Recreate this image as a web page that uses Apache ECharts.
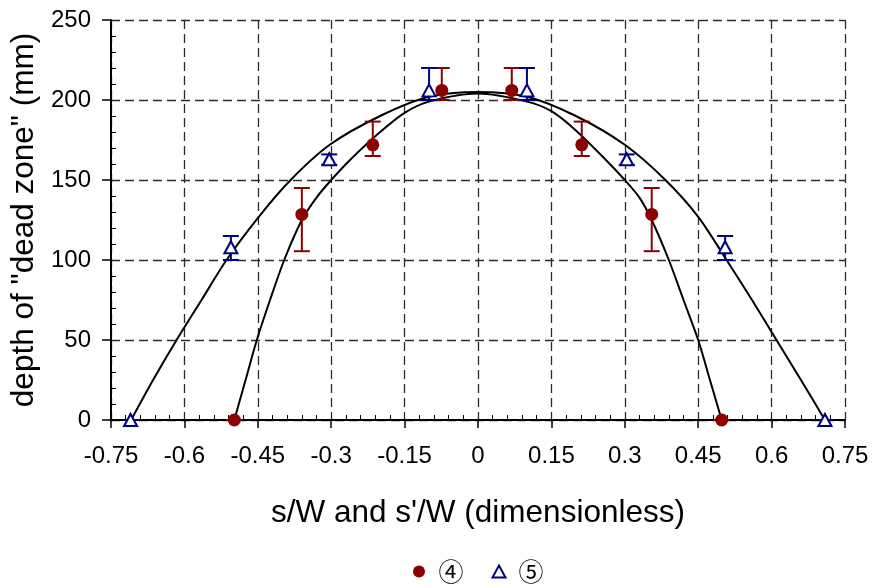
<!DOCTYPE html>
<html>
<head>
<meta charset="utf-8">
<script src="https://cdn.jsdelivr.net/npm/echarts@6/dist/echarts.min.js"></script>
<style>
  html, body { margin: 0; padding: 0; background: #ffffff; }
  #chart { width: 876px; height: 587px; }
</style>
</head>
<body>
<div id="chart"></div>
<script>
// Measured points: [s/W, depth (mm)]
const series4Points = [[-0.498, 0], [-0.36, 128.5], [-0.215, 172], [-0.074, 206], [0.069, 206], [0.212, 172], [0.355, 128.5], [0.498, 0]];
// Error bar ranges for series 4: [s/W, low, high]
const series4Errors = [[-0.498, 0, 0], [-0.36, 105.5, 145], [-0.215, 165, 186.5], [-0.074, 200, 220], [0.069, 200, 220], [0.212, 165, 186.5], [0.355, 105.5, 145], [0.498, 0, 0]];

const series5Points = [[-0.71, 0], [-0.505, 108], [-0.304, 163], [-0.1, 206], [0.1, 206], [0.304, 163], [0.505, 108], [0.709, 0]];
const series5Errors = [[-0.71, 0, 0], [-0.505, 100, 115], [-0.304, 159.5, 166], [-0.1, 200, 220], [0.1, 200, 220], [0.304, 159.5, 166], [0.505, 100, 115], [0.709, 0, 0]];

// Fitted profiles (wide one through series 5, narrow one through series 4)
const wideCurve = [[-0.709, 0], [-0.664, 25], [-0.616, 50], [-0.565, 75], [-0.514, 100], [-0.448, 127], [-0.383, 150], [-0.303, 172], [-0.2, 190], [-0.1, 202], [0, 205], [0.1, 202], [0.2, 190], [0.3, 172], [0.383, 150], [0.45, 127], [0.508, 100], [0.56, 75], [0.61, 50], [0.66, 25], [0.709, 0]];
const narrowCurve = [[-0.498, 0], [-0.475, 25], [-0.452, 50], [-0.425, 75], [-0.396, 100], [-0.36, 125], [-0.33, 139], [-0.3, 150], [-0.26, 163], [-0.2, 180], [-0.15, 192], [-0.1, 199], [0, 204], [0.1, 199], [0.15, 193], [0.2, 181], [0.26, 163], [0.3, 150], [0.33, 139], [0.355, 125], [0.39, 100], [0.42, 75], [0.45, 50], [0.474, 25], [0.498, 0]];

const xTicks = { min: -0.75, max: 0.75, step: 0.15 };
const yTicks = { min: 0, max: 250, step: 50 };

const red = '#8b0000';
const navy = '#000080';
const latin = 'Liberation Sans, Arial, sans-serif';

function errorBarRenderer(color) {
  return function (params, api) {
    const x = api.value(0);
    const lo = api.coord([x, api.value(1)]);
    const hi = api.coord([x, api.value(2)]);
    const half = 8;
    const style = { stroke: color, lineWidth: 2 };
    return {
      type: 'group',
      children: [
        { type: 'line', shape: { x1: lo[0], y1: lo[1], x2: hi[0], y2: hi[1] }, style: style },
        { type: 'line', shape: { x1: hi[0] - half, y1: hi[1], x2: hi[0] + half, y2: hi[1] }, style: style },
        { type: 'line', shape: { x1: lo[0] - half, y1: lo[1], x2: lo[0] + half, y2: lo[1] }, style: style }
      ]
    };
  };
}

const fmtX = v => {
  const r = Math.round(v * 100) / 100;
  return r === 0 ? '0' : String(r);
};

const gridDash = { show: true, lineStyle: { color: '#2b2b2b', width: 1.3, type: [9, 5] } };

// Main axes carry labels, outward major ticks and the dashed grid;
// the overlay axes only add the small inward minor ticks.
const chart = echarts.init(document.getElementById('chart'), null, { renderer: 'canvas' });
chart.setOption({
  animation: false,
  backgroundColor: '#ffffff',
  grid: { left: 111, right: 31, top: 20, bottom: 167, containLabel: false },
  xAxis: [
    {
      type: 'value', position: 'bottom',
      min: xTicks.min, max: xTicks.max, interval: xTicks.step,
      name: "s/W and s'/W (dimensionless)",
      nameLocation: 'middle',
      nameGap: 77,
      nameTextStyle: { fontFamily: latin, fontSize: 31.5, color: '#000' },
      axisLine: { onZero: false, lineStyle: { color: '#000', width: 2 } },
      axisTick: { show: true, inside: false, length: 8, lineStyle: { color: '#000', width: 1.5 } },
      minorTick: { show: false },
      axisLabel: { margin: 24, fontFamily: latin, fontSize: 24, color: '#000', formatter: fmtX },
      splitLine: gridDash
    },
    {
      type: 'value', position: 'bottom', offset: 0,
      min: xTicks.min, max: xTicks.max, interval: xTicks.step,
      axisLine: { show: false, onZero: false },
      axisTick: { show: false, inside: true },
      minorTick: { show: true, splitNumber: 5, length: 5, lineStyle: { color: '#000', width: 1 } },
      axisLabel: { show: false },
      splitLine: { show: false }
    }
  ],
  yAxis: [
    {
      type: 'value', position: 'left',
      min: yTicks.min, max: yTicks.max, interval: yTicks.step,
      name: 'depth of "dead zone" (mm)',
      nameLocation: 'middle',
      nameGap: 63,
      nameTextStyle: { fontFamily: latin, fontSize: 31.5, color: '#000' },
      axisLine: { onZero: false, lineStyle: { color: '#000', width: 2 } },
      axisTick: { show: true, inside: false, length: 9, lineStyle: { color: '#000', width: 1.5 } },
      minorTick: { show: false },
      axisLabel: { margin: 20, fontFamily: latin, fontSize: 24, color: '#000' },
      splitLine: gridDash
    },
    {
      type: 'value', position: 'left', offset: 0,
      min: yTicks.min, max: yTicks.max, interval: yTicks.step,
      axisLine: { show: false, onZero: false },
      axisTick: { show: false, inside: true },
      minorTick: { show: true, splitNumber: 5, length: 5, lineStyle: { color: '#000', width: 1 } },
      axisLabel: { show: false },
      splitLine: { show: false }
    }
  ],
  legend: {
    data: [{ name: '④', icon: 'circle' }, { name: '⑤', icon: 'triangle' }],
    left: 408,
    top: 554,
    itemWidth: 13,
    itemHeight: 12,
    itemGap: 28,
    textStyle: { fontFamily: 'Noto Sans CJK JP, sans-serif', fontSize: 25, color: '#000', padding: [0, 0, 0, 8] }
  },
  series: [
    {
      name: 'wide', type: 'line', data: wideCurve, smooth: 0.3, symbol: 'none',
      lineStyle: { color: '#000', width: 2 }, z: 2, silent: true
    },
    {
      name: 'narrow', type: 'line', data: narrowCurve, smooth: 0.3, symbol: 'none',
      lineStyle: { color: '#000', width: 2 }, z: 2, silent: true
    },
    {
      name: 'err4', type: 'custom', data: series4Errors, renderItem: errorBarRenderer(red),
      encode: { x: 0, y: [1, 2] }, z: 3
    },
    {
      name: 'err5', type: 'custom', data: series5Errors, renderItem: errorBarRenderer(navy),
      encode: { x: 0, y: [1, 2] }, z: 3
    },
    {
      name: '④', type: 'scatter', data: series4Points, symbol: 'circle', symbolSize: 13,
      itemStyle: { color: red, opacity: 1 }, z: 4
    },
    {
      name: '⑤', type: 'scatter', data: series5Points, symbol: 'triangle', symbolSize: [13, 12],
      itemStyle: { color: '#ffffff', borderColor: navy, borderWidth: 2, opacity: 1 }, z: 4
    }
  ]
});
</script>
</body>
</html>
